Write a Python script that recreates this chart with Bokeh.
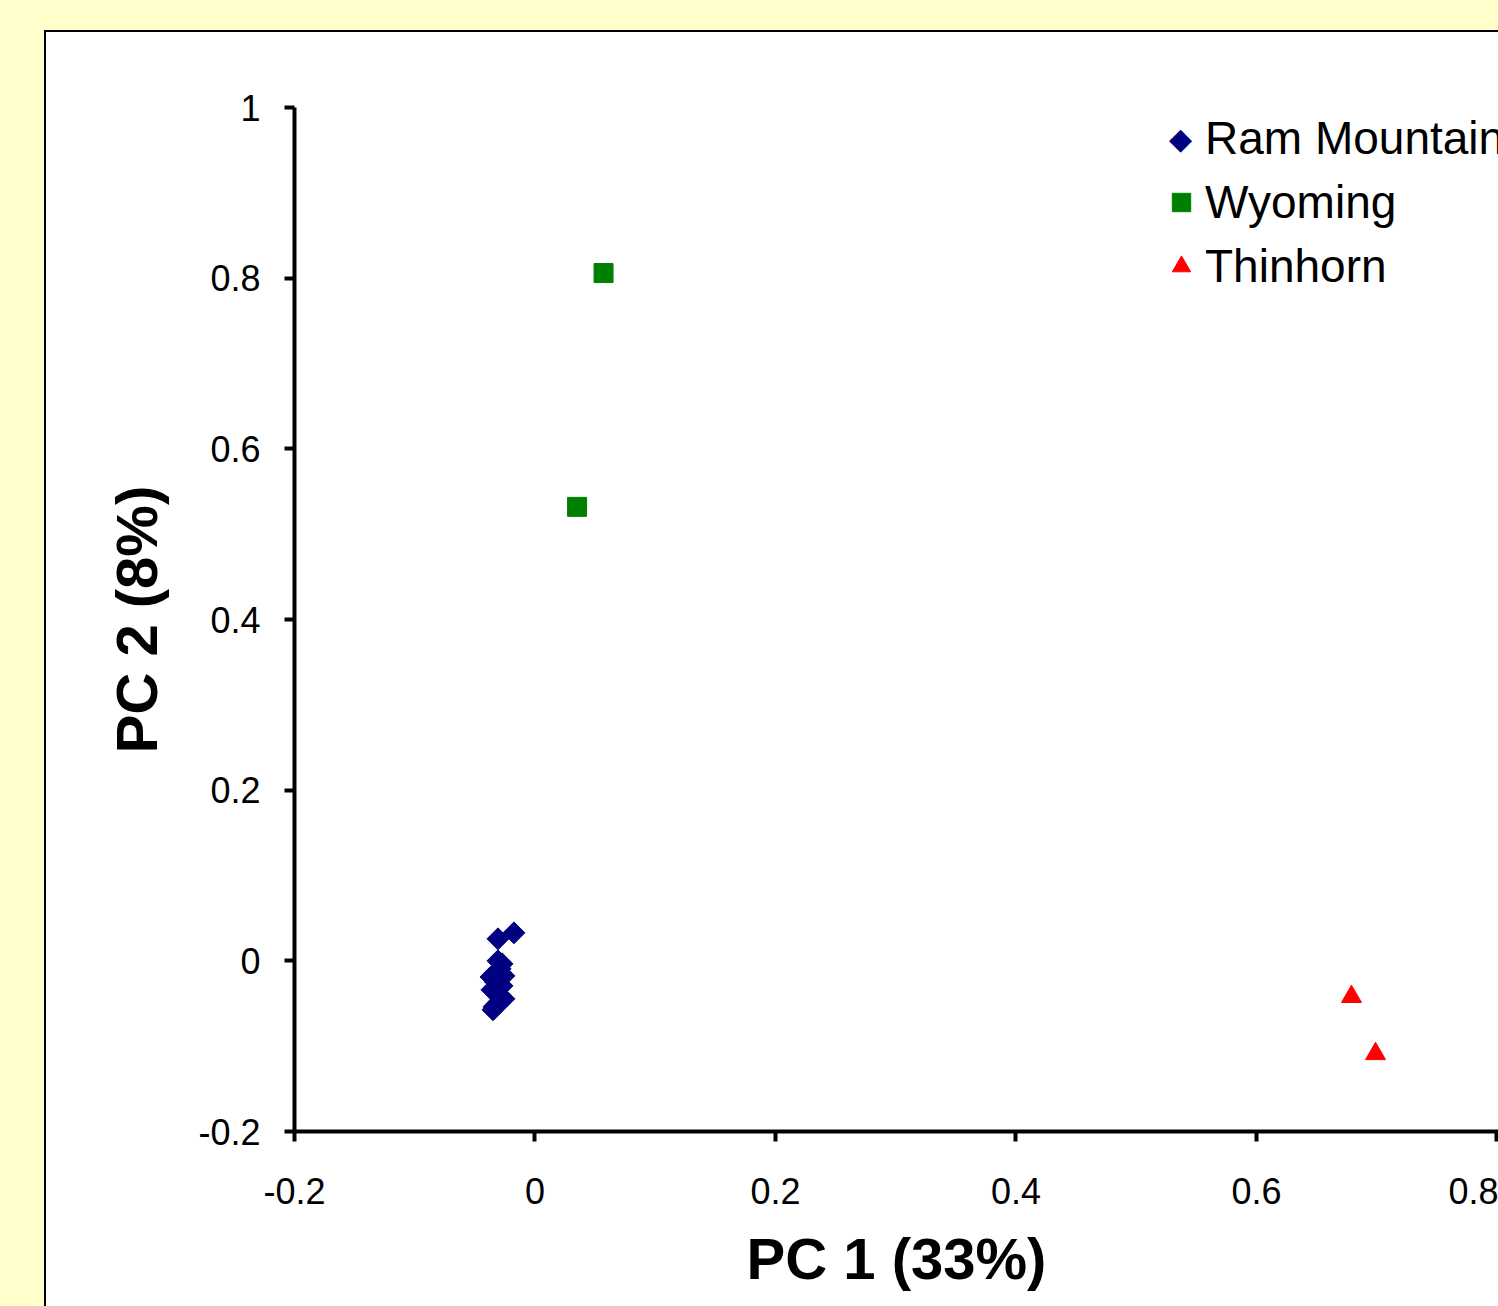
import numpy as np
from bokeh.plotting import figure
from bokeh.models import FixedTicker, Legend, LegendItem, Label
from bokeh.embed import file_html
from bokeh.resources import INLINE

# ---- data ----
ram_x = [-0.0308, -0.0274, -0.0366, -0.0258, -0.0316, -0.0358, -0.0274, -0.0308,
         -0.0258, -0.0341, -0.0349, -0.0299, -0.0175, -0.0308, -0.0290, -0.0330]
ram_y = [0.0000, -0.0035, -0.0188, -0.0176, -0.0141, -0.0340, -0.0293, -0.0387,
         -0.0445, -0.0539, -0.0574, -0.0480, 0.0328, 0.0258, -0.0094, -0.0246]
wyo_x = [0.035, 0.057]
wyo_y = [0.532, 0.806]
thin_x = [0.679, 0.699]
thin_y = [-0.042, -0.109]

series_names = ["Ram Mountain", "Wyoming", "Thinhorn"]
x_ticks = [-0.2, 0, 0.2, 0.4, 0.6, 0.8]
x_tick_labels = ["-0.2", "0", "0.2", "0.4", "0.6", "0.8"]
y_ticks = [-0.2, 0, 0.2, 0.4, 0.6, 0.8, 1]
y_tick_labels = ["-0.2", "0", "0.2", "0.4", "0.6", "0.8", "1"]
x_title = "PC 1 (33%)"
y_title = "PC 2 (8%)"

W, H = 1498, 1306
FONT = "Liberation Sans"
FRAME_L, FRAME_T, FRAME_B = 294, 107, 1131

p = figure(width=W, height=H, x_range=(-0.2, 0.80125), y_range=(-0.2, 1.0),
           output_backend="svg", toolbar_location=None,
           min_border_left=FRAME_L, min_border_right=0, min_border_top=FRAME_T,
           min_border_bottom=H - FRAME_B)
p.background_fill_color = "white"
p.border_fill_alpha = 0
# page background: pale yellow with a white, black-edged panel starting at (44, 30)
p.styles = {
    "background": ("linear-gradient(#ffffff, #ffffff) 45.5px 31.5px / 100% 100% no-repeat, "
                   "linear-gradient(#000000, #000000) 44px 30px / 100% 100% no-repeat, "
                   "#FFFFCC"),
}
p.outline_line_color = None
p.grid.visible = False

r1 = p.scatter(ram_x, ram_y, marker="square", angle=np.pi / 4, size=15.5,
               fill_color="#000080", line_color="#000080")
r2 = p.scatter(wyo_x, wyo_y, marker="square", size=19,
               fill_color="#008000", line_color="#008000")
r3 = p.scatter(thin_x, thin_y, marker="triangle", size=20,
               fill_color="#FF0000", line_color="#FF0000")
# invisible proxy so the legend row keeps its slot; the diamond symbol is drawn as text
r1_proxy = p.scatter(ram_x[:1], ram_y[:1], marker="square", size=1,
                     fill_alpha=0, line_alpha=0)

p.xaxis.ticker = FixedTicker(ticks=x_ticks)
p.yaxis.ticker = FixedTicker(ticks=y_ticks)
p.xaxis.major_label_overrides = dict(zip(x_ticks, x_tick_labels))
p.yaxis.major_label_overrides = dict(zip(y_ticks, y_tick_labels))
p.xaxis.axis_label = x_title
p.yaxis.axis_label = y_title

for ax in (p.xaxis[0], p.yaxis[0]):
    ax.axis_line_color = "black"
    ax.axis_line_width = 4
    ax.major_tick_line_color = "black"
    ax.major_tick_line_width = 4
    ax.major_tick_out = 10
    ax.major_tick_in = 0
    ax.minor_tick_out = 0
    ax.minor_tick_in = 0
    ax.major_label_text_font = FONT
    ax.major_label_text_font_size = "36px"
    ax.major_label_text_color = "black"
    ax.axis_label_text_font = FONT
    ax.axis_label_text_font_size = "58px"
    ax.axis_label_text_font_style = "bold"
    ax.axis_label_text_color = "black"

p.yaxis.major_label_standoff = 24
p.xaxis.major_label_standoff = 36
p.yaxis.axis_label_standoff = 26
p.xaxis.axis_label_standoff = 19

LEG_X, LEG_Y, GLYPH = 864, 838, 46
legend = Legend(items=[LegendItem(label=series_names[0], renderers=[r1_proxy]),
                       LegendItem(label=series_names[1], renderers=[r2]),
                       LegendItem(label=series_names[2], renderers=[r3])],
                location=(LEG_X, LEG_Y), orientation="vertical",
                background_fill_alpha=0, border_line_alpha=0,
                padding=0, margin=0, spacing=10,
                glyph_width=GLYPH, glyph_height=GLYPH, label_standoff=1,
                label_text_font=FONT, label_text_font_size="46px",
                label_text_color="black")
p.add_layout(legend)

diamond = Label(x=LEG_X + GLYPH / 2 - 1, y=FRAME_B - 138, x_units="screen", y_units="screen",
                text="\u25C6", text_font="DejaVu Sans", text_font_size="30px",
                text_color="#000080", text_align="center", text_baseline="middle")
p.add_layout(diamond)

open("out.html", "w").write(file_html(p, INLINE))
